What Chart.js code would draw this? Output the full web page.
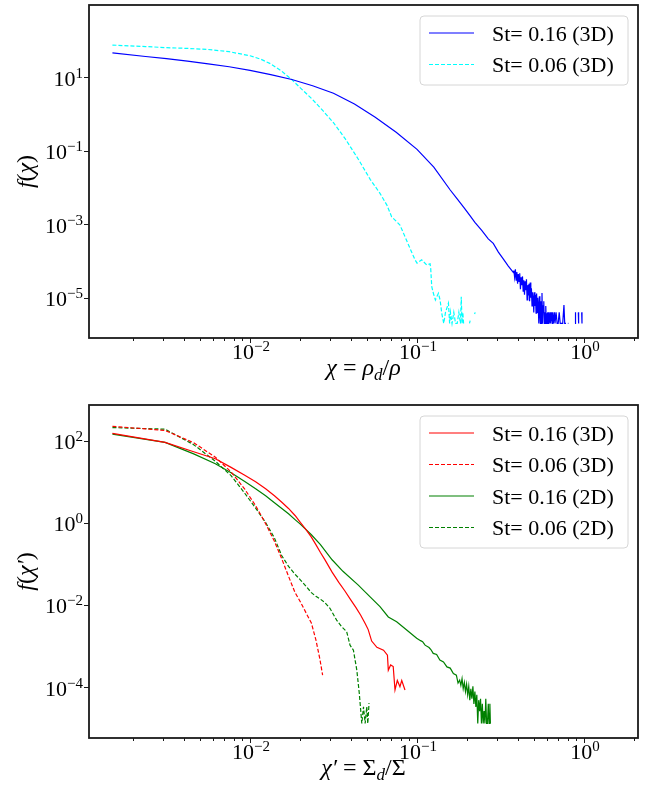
<!DOCTYPE html>
<html>
<head>
<meta charset="utf-8">
<script src="https://cdn.jsdelivr.net/npm/chart.js"></script>
<style>
  body { margin: 0; background: #fff; }
  canvas { position: absolute; left: 0; }
</style>
</head>
<body>
<canvas id="chiChart" width="654" height="393" style="top:0"></canvas>
<canvas id="sigmaChart" width="654" height="393" style="top:393px"></canvas>
<script>
// ---- top panel: chi = rho_d / rho (3D runs) ----
const chiSt016X = [0.0015, 0.00237, 0.00316, 0.00422, 0.00562, 0.0075, 0.01, 0.0133, 0.0178, 0.0237,
  0.0316, 0.0422, 0.0562, 0.075, 0.1, 0.126, 0.158, 0.173, 0.191, 0.2075,
  0.222, 0.244, 0.267, 0.286, 0.307, 0.329, 0.352, 0.378,
  0.380, 0.384, 0.388, 0.392, 0.396, 0.400, 0.404, 0.408, 0.412, 0.416,
  0.420, 0.424, 0.428, 0.432, 0.436, 0.440, 0.444, 0.448, 0.452, 0.456,
  0.460, 0.464, 0.468, 0.472, 0.476, 0.480, 0.484, 0.488, 0.492, 0.496,
  0.500, 0.504, 0.508, 0.512, 0.516, 0.520, 0.524, 0.528, 0.532, 0.536,
  0.540, 0.544, 0.548, 0.552, 0.556, 0.560, 0.564, 0.568, 0.574, 0.578,
  0.582, 0.586, 0.590, 0.594, 0.598, 0.602, 0.606, 0.610, 0.614, 0.618,
  0.622, 0.626, 0.630, 0.640, 0.645, 0.650, 0.655, 0.660, 0.665, 0.670,
  0.680, 0.690, 0.700, 0.710, 0.720, 0.745, 0.758, 0.766, 0.780, 0.790,
  0.800, 0.806, 0.815, 0.883, 0.887, 0.891, 0.900, 0.924, 0.928, 0.940,
  0.968, 0.972];
const chiSt016Y = [45.7, 36.3, 31.6, 27.2, 22.9, 19.1, 15.3, 11.7, 8.61, 5.82,
  3.63, 1.86, 0.813, 0.316, 0.108, 0.0355, 0.0085, 0.005, 0.00282, 0.0017,
  0.00112, 0.00068, 0.0004, 0.0003, 0.000174, 0.000112, 7.24e-5, 4.79e-5,
  5.5e-5, 3.6e-5, 5.9e-5, 3.0e-5, 5.0e-5, 2.4e-5, 4.4e-5, 2.8e-5, 4.6e-5, 1.7e-5,
  3.6e-5, 2.2e-5, 3.8e-5, 1.5e-5, 3.0e-5, 1.2e-5, 2.8e-5, 1.6e-5, 3.2e-5, 8.7e-6,
  2.2e-5, 1.2e-5, 2.4e-5, 8e-6, 2.6e-5, 1.0e-5, 1.8e-5, 6e-6, 1.4e-5, 1.0e-5,
  4e-6, 1.4e-5, 6e-6, 1.2e-5, 3.8e-6, 1.3e-5, 4e-6, 1.0e-5, 6e-6, 2e-6,
  1.1e-5, 4e-6, 2e-6, 8e-6, 2e-6, 1.35e-5, 2e-6, 6e-6, 8e-6, 2e-6,
  4e-6, 2e-6, 6e-6, 2e-6, 3.8e-6, 2e-6, 4e-6, 2e-6, 4e-6, 2e-6,
  2e-6, 4e-6, 2e-6, 4e-6, 2e-6, 4e-6, 2e-6, 2e-6, 4e-6, 2e-6,
  4e-6, 2e-6, 2e-6, 4e-6, 2e-6, 2e-6, 6.3e-6, 2e-6, 2e-6, null,
  2e-6, 2e-6, null, 2e-6, 4e-6, 2e-6, null, 4e-6, 2e-6, null,
  4e-6, 2e-6];

const chiSt006X = [0.0015, 0.00237, 0.00316, 0.00422, 0.00562, 0.0075, 0.01, 0.01155, 0.0133, 0.0154,
  0.0178, 0.0205, 0.0237, 0.0274, 0.0316, 0.0372, 0.0446, 0.0524, 0.06,
  0.066, 0.0705, 0.0755, 0.079, 0.0847, 0.0908, 0.0973, 0.1, 0.1067, 0.1143,
  0.1197, 0.1208, 0.1225, 0.1253, 0.1288, 0.1343, 0.1374, 0.1406, 0.1445, 0.148,
  0.1542, 0.1567, 0.1585, 0.162, 0.166, 0.17, 0.174, 0.178, 0.182, 0.184,
  0.186, 0.188, 0.19, 0.198, 0.206, 0.208, 0.215, 0.221, 0.223];
const chiSt006Y = [74.1, 67.6, 63.1, 60.3, 56.2, 49.0, 38.0, 30.9, 22.9, 14.8,
  8.51, 4.57, 2.45, 1.20, 0.575, 0.209, 0.0575, 0.0166, 0.0069,
  0.0033, 0.00158, 0.00117, 0.00095, 0.000457, 0.000219, 0.000107, 8.71e-5, 0.000107, 7.76e-5,
  8.32e-5, 6.03e-5, 2.0e-5, 1.32e-5, 8.7e-6, 1.32e-5, 8.7e-6, 3.8e-6, 2e-6, 4e-6,
  7.1e-6, 2e-6, 4e-6, 2e-6, 4e-6, 2e-6, 2e-6, 4e-6, 2e-6, 1.07e-5,
  2e-6, 4e-6, 2e-6, null, 2e-6, 2.4e-6, null, 3.6e-6, 4e-6];

// ---- bottom panel: chi' = Sigma_d / Sigma ----
const sigSt016_3dX = [0.0015, 0.0031, 0.0046, 0.0062, 0.0077, 0.0093, 0.0108, 0.0124, 0.014, 0.0155, 0.017, 0.0186, 0.02, 0.0217, 0.0233, 0.0248, 0.0264, 0.028, 0.031, 0.034, 0.037, 0.04, 0.043, 0.046, 0.049,
  0.051, 0.0535, 0.0575, 0.063, 0.0665, 0.0673, 0.0695, 0.072, 0.0738, 0.0762, 0.079, 0.081, 0.0847];
const sigSt016_3dY = [151, 91.2, 53.7, 36.3, 22.4, 14.5, 10.0, 6.76, 4.57, 3.16, 2.24, 1.51, 1.02, 0.676, 0.447, 0.295, 0.19, 0.129, 0.063, 0.0355, 0.0219, 0.0135, 0.0087, 0.0056, 0.00347,
  0.00251, 0.00132, 0.00093, 0.00079, 0.0006, 0.000257, 0.000347, 0.000316, 8.51e-5, 0.000145, 0.000102, 0.000145, 8.51e-5];

const sigSt006_3dX = [0.0015, 0.0031, 0.0046, 0.0062, 0.0077, 0.0093, 0.0108, 0.0124, 0.014, 0.0155, 0.017, 0.0186, 0.02, 0.0217, 0.0233, 0.0248, 0.0262, 0.0272];
const sigSt006_3dY = [224, 178, 89, 39.8, 17.4, 6.6, 2.63, 0.955, 0.355, 0.132, 0.05, 0.02, 0.012, 0.0063, 0.00363, 0.00141, 0.00048, 0.000195];

const sigSt016_2dX = [0.0015, 0.0031, 0.0046, 0.0062, 0.0077, 0.0093, 0.0108, 0.0124, 0.014, 0.0155, 0.017, 0.0186, 0.02, 0.0233, 0.0264, 0.031, 0.036, 0.0445, 0.052, 0.06, 0.0673, 0.0755, 0.0867,
  0.0995, 0.105, 0.108, 0.1117, 0.118, 0.121, 0.125, 0.131, 0.137, 0.144, 0.151, 0.158, 0.165, 0.172, 0.176, 0.18,
  0.183, 0.186, 0.189, 0.192, 0.195, 0.198, 0.201, 0.204, 0.207, 0.21, 0.213, 0.216, 0.219, 0.222, 0.225, 0.228, 0.231, 0.234, 0.237, 0.24, 0.243, 0.246, 0.249, 0.252, 0.255, 0.258, 0.261, 0.264, 0.267, 0.27, 0.273, 0.275];
const sigSt016_2dY = [145, 91, 47.9, 27.5, 16.6, 10.2, 6.76, 4.57, 3.09, 2.24, 1.66, 1.20, 0.93, 0.513, 0.295, 0.126, 0.066, 0.0305, 0.0162, 0.0091, 0.0051, 0.0039, 0.00245,
  0.00155, 0.00135, 0.00128, 0.00105, 0.00092, 0.00082, 0.00066, 0.00062, 0.000457, 0.00041, 0.00031, 0.00029, 0.000214, 0.000195, 0.000125, 0.000148,
  1.1e-4, 1.6e-4, 9.1e-5, 1.3e-4, 7.8e-5, 1.17e-4, 6.5e-5, 1.04e-4, 4.8e-5, 9.1e-5, 5.2e-5, 1.04e-4, 3.9e-5, 7.8e-5, 3.3e-5, 6.5e-5, 1.3e-5, 4.8e-5, 2.6e-5, 5.2e-5, 1.3e-5, 3.9e-5, 1.3e-5, 2.6e-5, 1.3e-5, 5.2e-5, 1.3e-5, 1.3e-5, 3.9e-5, 1.3e-5, 3.9e-5, 1.3e-5];

const sigSt006_2dX = [0.0015, 0.0031, 0.0046, 0.0062, 0.0077, 0.0093, 0.0108, 0.0124, 0.014, 0.0155, 0.017, 0.0186, 0.02, 0.0217, 0.0233, 0.0248, 0.0264, 0.028, 0.0301, 0.033, 0.0354, 0.0379, 0.0397, 0.0416,
  0.0436, 0.0451, 0.0467, 0.0478, 0.0489, 0.05, 0.0507, 0.0516];
const sigSt006_2dY = [209, 191, 80, 31.6, 14.1, 5.25, 2.29, 1.02, 0.427, 0.158, 0.087, 0.056, 0.041, 0.028, 0.02, 0.0162, 0.0138, 0.0115, 0.0083, 0.00427, 0.00295, 0.00224, 0.00105, 0.00079,
  0.000257, 7.08e-5, 1.3e-5, 3.31e-5, 1.3e-5, 3.31e-5, 1.3e-5, 4.07e-5];

// tick decades (labels are 10^n)
const xTickExps = [-2, -1, 0];
const chiYTickExps = [1, -1, -3, -5];
const sigYTickExps = [2, 0, -2, -4];

// axis limits (same x range on both panels)
const xMin = 1.086e-3, xMax = 2.104;
const chiYMin = 8.04e-7, chiYMax = 912;
const sigYMin = 5.75e-6, sigYMax = 741;

const serif = "'Liberation Serif', 'Times New Roman', serif";

function pts(xs, ys) {
  return xs.map((x, i) => ({ x: x, y: ys[i] }));
}

function drawParts(ctx, parts, x, y, align) {
  let w = 0;
  parts.forEach(p => { ctx.font = p.f; w += ctx.measureText(p.t).width; });
  let cx = align === 'center' ? x - w / 2 : (align === 'right' ? x - w : x);
  ctx.textAlign = 'left';
  ctx.textBaseline = 'alphabetic';
  parts.forEach(p => {
    ctx.font = p.f;
    ctx.fillText(p.t, cx, y + (p.dy || 0));
    cx += ctx.measureText(p.t).width;
  });
}

function powParts(e) {
  const s = e < 0 ? '\u2212' + (-e) : String(e);
  return [{ t: '10', f: '22px ' + serif }, { t: s, f: '15px ' + serif, dy: -8 }];
}

// matplotlib-like frame, ticks, labels and legend
const mplAxes = {
  id: 'mplAxes',
  afterDraw(chart, args, o) {
    const { ctx, chartArea: a, scales: { x, y } } = chart;
    ctx.save();
    ctx.strokeStyle = '#1a1a1a';
    ctx.fillStyle = '#000';
    ctx.lineWidth = 1;

    // x ticks (major + minor), pointing out
    for (let e = -3; e <= 0; e++) {
      for (let k = 1; k < 10; k++) {
        const v = k * Math.pow(10, e);
        if (v < xMin || v > xMax) continue;
        const px = Math.round(x.getPixelForValue(v)) + 0.5;
        ctx.beginPath();
        ctx.moveTo(px, a.bottom);
        ctx.lineTo(px, a.bottom + (k === 1 ? 5 : 3));
        ctx.stroke();
      }
    }
    o.yTicks.forEach(e => {
      const py = Math.round(y.getPixelForValue(Math.pow(10, e))) + 0.5;
      ctx.beginPath();
      ctx.moveTo(a.left - 5, py);
      ctx.lineTo(a.left, py);
      ctx.stroke();
    });

    ctx.lineWidth = 1.8;
    ctx.strokeRect(a.left, a.top, a.right - a.left, a.bottom - a.top);

    xTickExps.forEach(e => drawParts(ctx, powParts(e), x.getPixelForValue(Math.pow(10, e)) + 1, a.bottom + 21, 'center'));
    o.yTicks.forEach(e => drawParts(ctx, powParts(e), a.left - 6, y.getPixelForValue(Math.pow(10, e)) + 8.5, 'right'));

    drawParts(ctx, o.xTitle, (a.left + a.right) / 2, a.bottom + 37, 'center');
    ctx.save();
    ctx.translate(33, (a.top + a.bottom) / 2);
    ctx.rotate(-Math.PI / 2);
    drawParts(ctx, o.yTitle, 0, 0, 'center');
    ctx.restore();

    // legend
    const ds = chart.data.datasets;
    const bw = 208, bh = ds.length * 31.5 + 6;
    const bx = a.right - 10 - bw, by = a.top + 11;
    ctx.beginPath();
    ctx.roundRect(bx, by, bw, bh, 4);
    ctx.fillStyle = 'rgba(255,255,255,0.8)';
    ctx.fill();
    ctx.strokeStyle = '#d6d6d6';
    ctx.lineWidth = 1;
    ctx.stroke();
    ds.forEach((d, i) => {
      const ry = by + 17 + i * 31.5;
      ctx.beginPath();
      ctx.strokeStyle = d.borderColor;
      ctx.lineWidth = d.borderWidth;
      ctx.setLineDash(d.borderDash || []);
      ctx.moveTo(bx + 9, ry);
      ctx.lineTo(bx + 54, ry);
      ctx.stroke();
      ctx.setLineDash([]);
      ctx.fillStyle = '#000';
      ctx.font = '22px ' + serif;
      ctx.textAlign = 'left';
      ctx.textBaseline = 'alphabetic';
      ctx.fillText(d.label, bx + 72, ry + 7.5);
    });
    ctx.restore();
  }
};

function lineSet(label, xs, ys, color, dashed) {
  return {
    label: label,
    data: pts(xs, ys),
    borderColor: color,
    borderWidth: 1.2,
    borderDash: dashed ? [4, 2] : [],
    pointRadius: 0,
    tension: 0,
    spanGaps: false,
    fill: false
  };
}

function makeChart(id, datasets, yMin, yMax, padding, axesOpts) {
  return new Chart(document.getElementById(id), {
    type: 'line',
    data: { datasets: datasets },
    options: {
      responsive: false,
      animation: false,
      events: [],
      layout: { padding: padding },
      plugins: {
        legend: { display: false },
        tooltip: { enabled: false },
        mplAxes: axesOpts
      },
      scales: {
        x: { type: 'logarithmic', min: xMin, max: xMax, bounds: 'data', display: false },
        y: { type: 'logarithmic', min: yMin, max: yMax, bounds: 'data', display: false }
      }
    },
    plugins: [mplAxes]
  });
}

const it24 = 'italic 24px ' + serif, up24 = '24px ' + serif, sub17 = 'italic 17px ' + serif;

makeChart('chiChart', [
  lineSet('St= 0.16 (3D)', chiSt016X, chiSt016Y, '#0000ff', false),
  lineSet('St= 0.06 (3D)', chiSt006X, chiSt006Y, '#00ffff', true)
], chiYMin, chiYMax, { left: 89, top: 5, right: 16, bottom: 55 }, {
  yTicks: chiYTickExps,
  xTitle: [{ t: '\u03c7', f: it24 }, { t: ' = ', f: up24 }, { t: '\u03c1', f: it24 }, { t: 'd', f: sub17, dy: 5 }, { t: '/', f: up24 }, { t: '\u03c1', f: it24 }],
  yTitle: [{ t: 'f', f: it24 }, { t: '(', f: up24 }, { t: '\u03c7', f: it24 }, { t: ')', f: up24 }]
});

makeChart('sigmaChart', [
  lineSet('St= 0.16 (3D)', sigSt016_3dX, sigSt016_3dY, '#ff0000', false),
  lineSet('St= 0.06 (3D)', sigSt006_3dX, sigSt006_3dY, '#ff0000', true),
  lineSet('St= 0.16 (2D)', sigSt016_2dX, sigSt016_2dY, '#008000', false),
  lineSet('St= 0.06 (2D)', sigSt006_2dX, sigSt006_2dY, '#008000', true)
], sigYMin, sigYMax, { left: 89, top: 12, right: 16, bottom: 48 }, {
  yTicks: sigYTickExps,
  xTitle: [{ t: '\u03c7\u2032', f: it24 }, { t: ' = ', f: up24 }, { t: '\u03a3', f: up24 }, { t: 'd', f: sub17, dy: 5 }, { t: '/', f: up24 }, { t: '\u03a3', f: up24 }],
  yTitle: [{ t: 'f', f: it24 }, { t: '(', f: up24 }, { t: '\u03c7\u2032', f: it24 }, { t: ')', f: up24 }]
});
</script>
</body>
</html>
